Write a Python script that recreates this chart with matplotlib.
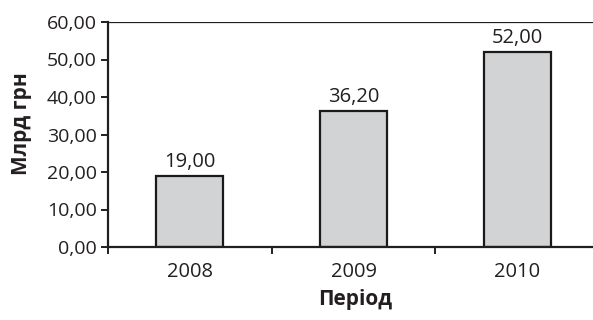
import matplotlib
matplotlib.use("Agg")
import matplotlib.pyplot as plt
from matplotlib.ticker import FuncFormatter, FixedLocator

years = ["2008", "2009", "2010"]
values = [19.00, 36.20, 52.00]
y_ticks = [0, 10, 20, 30, 40, 50, 60]

plt.rcParams['font.family'] = ['Open Sans', 'DejaVu Sans']

fig = plt.figure(figsize=(5.93, 3.2), dpi=100)
ax = fig.add_axes([108 / 593, 73 / 320, 491 / 593, 225 / 320])

def fmt(v):
    return f"{v:.2f}".replace(".", ",")

x = list(range(len(years)))
bars = ax.bar(x, values, width=0.41, color="#d1d3d4", edgecolor="#1a1a1a", linewidth=1.6)
for xi, v in zip(x, values):
    ax.text(xi, v + 1.1, fmt(v), ha="center", va="bottom", fontsize=14.5, color="#231f20")

ax.set_xlim(-0.5, len(years) - 0.5)
ax.set_ylim(0, 60)
ax.axhline(60, color="#231f20", linewidth=0.9, zorder=0)

ax.set_yticks(y_ticks)
ax.yaxis.set_major_formatter(FuncFormatter(lambda v, p: fmt(v)))
ax.set_xticks(x)
ax.set_xticklabels(years)
ax.xaxis.set_minor_locator(FixedLocator([i - 0.5 for i in range(len(years) + 1)]))
ax.tick_params(axis="x", which="major", length=0, pad=11, labelsize=14.5, colors="#231f20")
ax.tick_params(axis="x", which="minor", length=5, width=1.4, direction="out", color="#231f20")
ax.tick_params(axis="y", length=5, width=1.4, direction="out", pad=3, labelsize=14, colors="#231f20")

for s in ["top", "right"]:
    ax.spines[s].set_visible(False)
for s in ["left", "bottom"]:
    ax.spines[s].set_linewidth(1.6)
    ax.spines[s].set_color("#231f20")

fig.text(22 / 593, 1 - 124 / 320, "Млрд грн", ha="center", va="center", rotation=90,
         fontsize=15, fontweight="bold", color="#231f20")
fig.text(355 / 593, 1 - 300 / 320, "Період", ha="center", va="center",
         fontsize=15, fontweight="bold", color="#231f20")

fig.savefig("out.png", dpi=100)
